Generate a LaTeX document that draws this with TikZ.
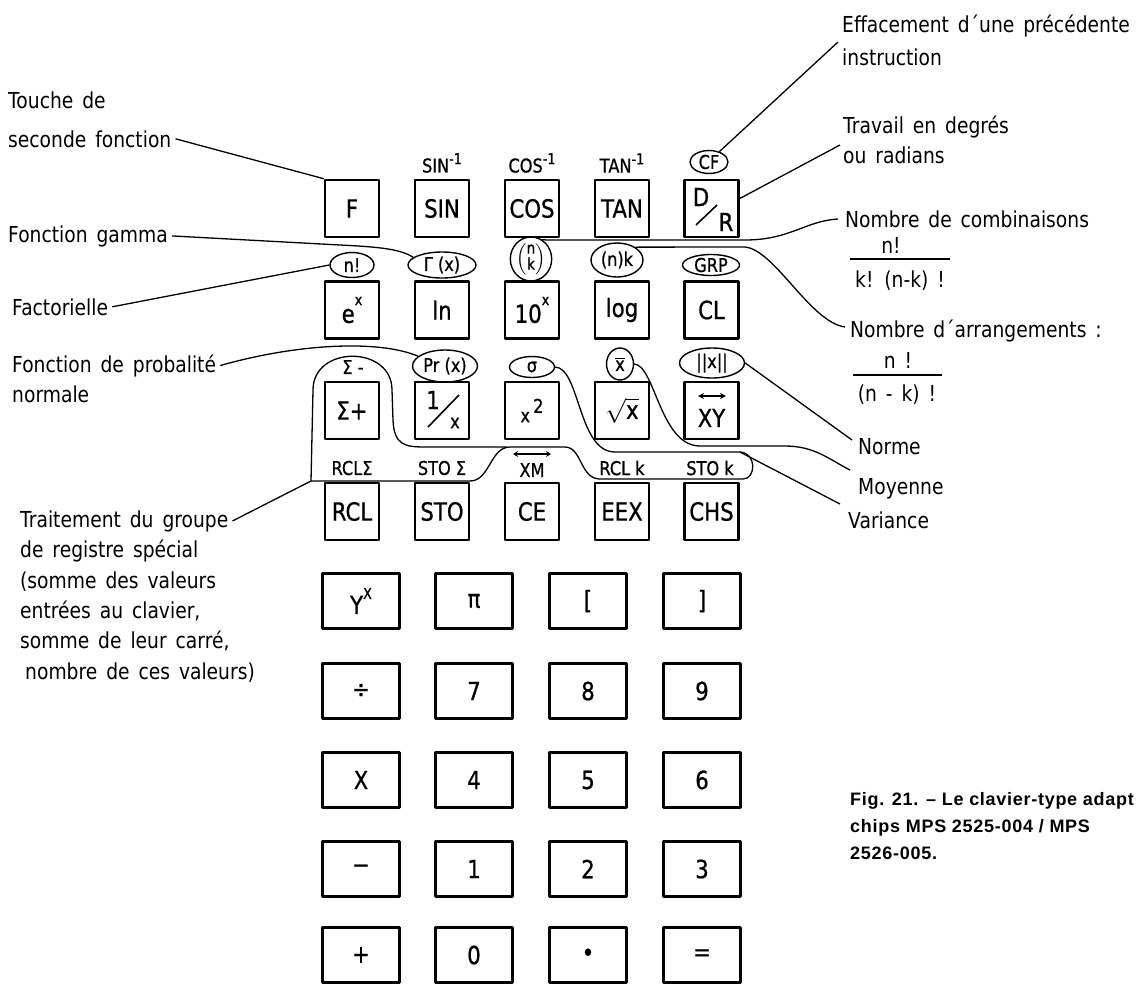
\documentclass[tikz,border=0pt]{standalone}
\usepackage{amsmath}
\usepackage{fontspec}
\setmainfont{DejaVu Sans}[FakeStretch=0.85,WordSpace=1.5]
\newfontfamily\keyfam{DejaVu Sans}[FakeStretch=0.85,FakeBold=0.8]
\newfontfamily\capfamily{Liberation Sans}[LetterSpace=4]
\usetikzlibrary{shapes.geometric,arrows.meta}
\newcommand\lblfont{\fontsize{22}{26}\selectfont}
\newcommand\keyfont{\keyfam\fontsize{25}{28}\selectfont}
\newcommand\secfont{\keyfam\fontsize{19}{20}\selectfont}
\newcommand\supfont{\fontsize{15}{15}\selectfont}
\newcommand\capfont{\capfamily\bfseries\fontsize{18}{20}\selectfont}
\begin{document}
\begin{tikzpicture}[x=1pt,y=-1pt,line join=round,
 key/.style={draw,line width=2.6pt,minimum width=54pt,minimum height=57pt,inner sep=0pt,font=\keyfont},
 bkey/.style={draw,line width=2.6pt,minimum width=77pt,minimum height=55pt,inner sep=0pt,font=\keyfont},
 lbl/.style={anchor=base west,inner sep=0pt,font=\lblfont},
 sec/.style={inner sep=0pt,font=\secfont},
 oval/.style={draw,ellipse,line width=1.4pt,inner sep=0pt,font=\secfont},
 lead/.style={line width=1.3pt},
 glyph/.style={line width=1.6pt},
 txt/.style={inner sep=0pt},
 captext/.style={anchor=base west,inner sep=0pt,font=\capfont}]
\useasboundingbox (0,0) rectangle (1140,983);
\fill[white] (0,0) rectangle (1140,983);

% ---------- top keys ----------
\node[key] (kF)   at (352,208.5) {F};
\node[key] (kSIN) at (442,208.5) {SIN};
\node[key] (kCOS) at (532,208.5) {COS};
\node[key] (kTAN) at (622,208.5) {TAN};
\node[key] (kDR)  at (711.5,208.5) {};
\node[txt,font=\keyfont] (kD) at (701,197) {D};
\node[txt,font=\keyfont] (kR) at (726,222) {R};
\draw[glyph] (696,225) -- (717,205);

\node[key] (kEX)  at (352,310) {e\raisebox{1.3ex}{\supfont x}};
\node[key] (kLN)  at (442,310) {ln};
\node[key] (kTEN) at (532,310) {10\raisebox{1.3ex}{\supfont x}};
\node[key] (kLOG) at (622,310) {log};
\node[key] (kCL)  at (711.5,310) {CL};

\node[key] (kSP)  at (352,410.5) {Σ+};
\node[key] (kINV) at (442,410.5) {};
\node[txt,font=\keyfont] (kone) at (433,400) {1};
\node[txt,font=\secfont] (kxx) at (455,423) {x};
\draw[glyph] (428,427) -- (459,395);
\node[key] (kSQ)  at (532,410.5) {\secfont x\,\raisebox{0.9ex}{2}};
\node[key] (kRT)  at (622,410.5) {$\sqrt{\mbox{\keyfont x}}$};
\node[key] (kXY)  at (711.5,410.5) {};
\node[txt,font=\keyfont] (kxyt) at (711.5,418) {XY};
\draw[glyph,{Stealth[length=6pt,width=6pt]}-{Stealth[length=6pt,width=6pt]}] (698,396) -- (726,396);

\node[key] (kRCL) at (352,511.5) {RCL};
\node[key] (kSTO) at (442,511.5) {STO};
\node[key] (kCE)  at (532,511.5) {CE};
\node[key] (kEEX) at (622,511.5) {EEX};
\node[key] (kCHS) at (711.5,511.5) {CHS};

% ---------- bottom keys ----------
\node[bkey] (bYX) at (361,601) {Y\raisebox{1.1ex}{\supfont X}};
\node[bkey] (bPI) at (474,601) {π};
\node[bkey] (bLB) at (588,601) {[};
\node[bkey] (bRB) at (702,601) {]};
\node[bkey] (bDIV) at (361,691) {÷};
\node[bkey] (b7) at (474,691) {7};
\node[bkey] (b8) at (588,691) {8};
\node[bkey] (b9) at (702,691) {9};
\node[bkey] (bMUL) at (361,780) {X};
\node[bkey] (b4) at (474,780) {4};
\node[bkey] (b5) at (588,780) {5};
\node[bkey] (b6) at (702,780) {6};
\node[bkey] (bMIN) at (361,869) {−};
\node[bkey] (b1) at (474,869) {1};
\node[bkey] (b2) at (588,869) {2};
\node[bkey] (b3) at (702,869) {3};
\node[bkey] (bADD) at (361,955) {+};
\node[bkey] (b0) at (474,955) {0};
\node[bkey] (bDOT) at (588,955) {•};
\node[bkey] (bEQ) at (702,955) {=};

% ---------- second functions ----------
\node[sec] (sSIN) at (442,163) {SIN\raisebox{0.8ex}{\supfont -1}};
\node[sec] (sCOS) at (532,163) {COS\raisebox{0.8ex}{\supfont -1}};
\node[sec] (sTAN) at (622,163) {TAN\raisebox{0.8ex}{\supfont -1}};
\node[oval,minimum width=38pt,minimum height=23pt] (sCF) at (709,162) {CF};

\node[oval,minimum width=44pt,minimum height=25pt] (sNF) at (352,265) {n!};
\node[oval,minimum width=68pt,minimum height=26pt] (sGAM) at (442,265) {Γ (x)};
\node[oval,minimum width=36pt,minimum height=40pt,font=\keyfam\fontsize{16}{17}\selectfont] (sBIN) at (531,259)
  {$\left(\renewcommand\arraystretch{0.75}\begin{array}{@{}c@{}}\mbox{n}\\\mbox{k}\end{array}\right)$};
\node[oval,minimum width=52pt,minimum height=34pt] (sNK) at (617,260) {(n)k};
\node[oval,minimum width=57pt,minimum height=21pt] (sGRP) at (711,265) {GRP};

\node[sec] (sSM) at (353,367) {Σ -};
\node[oval,minimum width=65pt,minimum height=32pt] (sPR) at (445,366) {Pr (x)};
\node[oval,minimum width=45pt,minimum height=21pt] (sSIG) at (532,367) {σ};
\node[oval,minimum width=27pt,minimum height=32pt] (sXB) at (620,364) {$\overline{\mbox{\secfont x}}$};
\node[oval,minimum width=65pt,minimum height=30pt] (sNRM) at (712,363) {||x||};

\node[sec] (sRS) at (352,468) {RCLΣ};
\node[sec] (sSS) at (442,468) {STO Σ};
\node[sec] (sXM) at (532,470) {XM};
\draw[glyph,{Stealth[length=5pt,width=6pt]}-{Stealth[length=5pt,width=6pt]}] (513,454) -- (551,454);
\node[sec] (sRK) at (622,468) {RCL k};
\node[sec] (sSK) at (710,468) {STO k};

% ---------- left labels ----------
\node[lbl] (lt1) at (8,108) {Touche de};
\node[lbl] (lt2) at (8,147) {seconde fonction};
\node[lbl] (lgam) at (8,242) {Fonction gamma};
\node[lbl] (lfac) at (12,315) {Factorielle};
\node[lbl] (lpr1) at (12,372) {Fonction de probalité};
\node[lbl] (lpr2) at (12,402) {normale};
\node[lbl] (ltr1) at (20,527) {Traitement du groupe};
\node[lbl] (ltr2) at (20,557) {de registre spécial};
\node[lbl] (ltr3) at (20,588) {(somme des valeurs};
\node[lbl] (ltr4) at (20,618) {entrées au clavier,};
\node[lbl] (ltr5) at (20,648) {somme de leur carré,};
\node[lbl] (ltr6) at (25,679) {nombre de ces valeurs)};

% ---------- right labels ----------
\node[lbl] (ref1) at (842,32) {Effacement d´une précédente};
\node[lbl] (ref2) at (842,65) {instruction};
\node[lbl] (rtr1) at (843,133) {Travail en degrés};
\node[lbl] (rtr2) at (843,163) {ou radians};
\node[lbl] (rco) at (845,227) {Nombre de combinaisons};
\node[lbl,anchor=base] (rcn) at (891,253) {n!};
\draw[lead] (850,259) -- (950,259);
\node[lbl,anchor=base] (rcd) at (900,287) {k! (n-k) !};
\node[lbl] (rar) at (850,337) {Nombre d´arrangements :};
\node[lbl,anchor=base] (ran) at (898,368) {n !};
\draw[lead] (853,375) -- (942,375);
\node[lbl,anchor=base] (rad) at (897,401) {(n - k) !};
\node[lbl] (rno) at (858,454) {Norme};
\node[lbl] (rmo) at (858,494) {Moyenne};
\node[lbl] (rva) at (848,528) {Variance};

% ---------- caption ----------
\node[captext] (c1) at (850,805) {Fig. 21. – Le clavier-type adapt};
\node[captext] (c2) at (850,832) {chips MPS 2525-004 / MPS};
\node[captext] (c3) at (850,859) {2526-005.};

% ---------- connectors ----------
\coordinate (encl) at (311,481);
\coordinate (efend) at (838,42);
\coordinate (trend) at (840,145);
\coordinate (cbend) at (838,219);
\coordinate (arend) at (845,327);
\coordinate (nmend) at (852,440);
\coordinate (moend) at (850,470);
\coordinate (vaend) at (840,504);

\draw[lead] ([xshift=4pt]lt2.east) -- (kF.north west);
\draw[lead] ([xshift=4pt]lgam.east) -- (340,245) .. controls (380,247) and (400,249) .. (sGAM.165);
\draw[lead] ([xshift=4pt]lfac.east) -- (sNF.west);
\draw[lead] ([xshift=4pt]lpr1.east) .. controls (300,343) and (380,340) .. (sPR.160);
\draw[lead] ([xshift=4pt]ltr1.east) -- (encl);
\draw[lead] (sCF.45) -- (efend);
\draw[lead] ([yshift=10pt]kDR.east) -- (trend);
\draw[lead] (sBIN.60) .. controls (545,240) .. (560,240) -- (745,240) .. controls (790,240) and (805,221) .. (cbend);
\draw[lead] (sNK.35) -- (745,247) .. controls (775,250) and (810,322) .. (arend);
\draw[lead] (sNRM.east) -- (nmend);
\draw[lead] (sXB.east) .. controls (655,365) and (660,446) .. (700,446) -- (785,446) .. controls (815,446) and (830,460) .. (moend);
\draw[lead] (sSIG.east) .. controls (580,368) and (578,452) .. (615,452) -- (740,452) -- (vaend);
% enclosures
\draw[lead] (encl) -- (313,390) .. controls (313,345) and (392,345) .. (392,390) -- (393,420) .. controls (394,445) and (405,447) .. (425,447) -- (507,447);
\draw[lead] (encl) -- (470,481) .. controls (490,481) and (490,447) .. (510,447) -- (565,447) .. controls (582,447) and (580,479) .. (600,479) -- (743,479) .. controls (756,479) and (757,453) .. (740,452);
\end{tikzpicture}
\end{document}
